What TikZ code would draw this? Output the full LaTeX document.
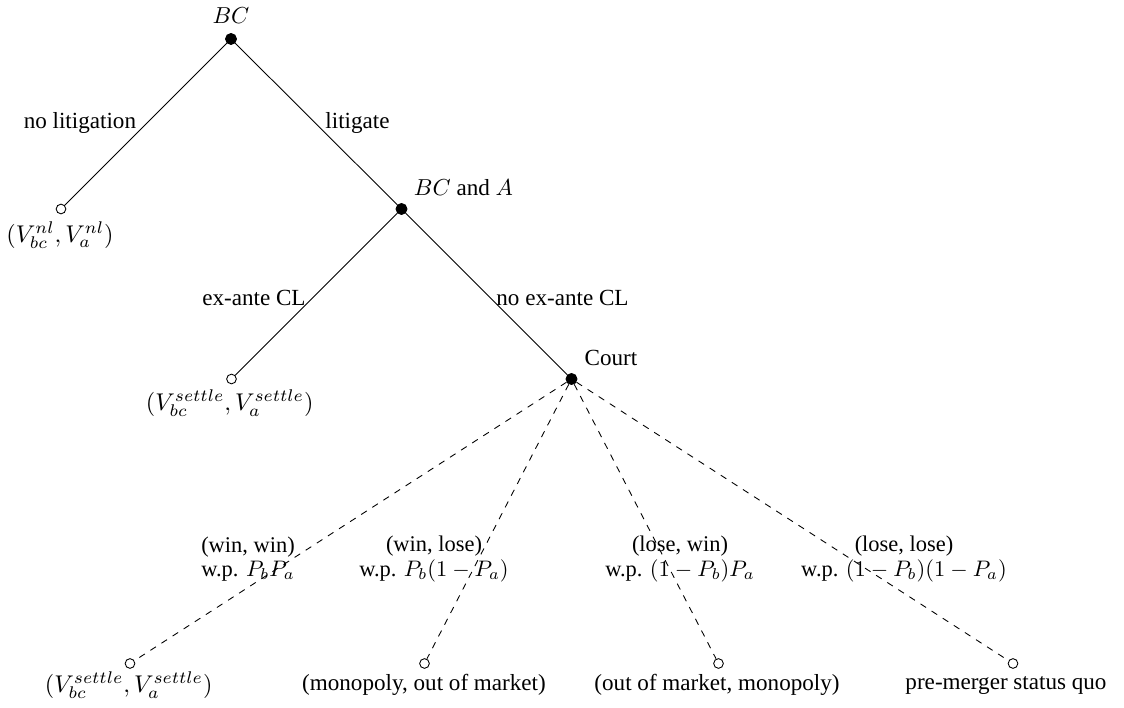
\RequirePackage{fix-cm}
\documentclass[tikz,border=0pt]{standalone}
\usepackage{fontspec}
\setmainfont{Liberation Serif}
\begin{document}
\begin{tikzpicture}[x=0.4545pt,y=-0.4545pt,
  dec/.style={circle,draw=black,fill=black,inner sep=0pt,minimum size=5pt},
  term/.style={circle,draw=black,fill=white,line width=0.4pt,inner sep=0pt,minimum size=4.4pt},
  move/.style={draw=black,line width=0.4pt},
  nature/.style={draw=black,line width=0.4pt,dashed},
  txt/.style={font=\fontsize{10.5pt}{12.5pt}\selectfont,inner sep=0pt},
  pay/.style={font=\fontsize{11pt}{13pt}\selectfont,inner sep=0pt},
  prob/.style={font=\fontsize{10.2pt}{11pt}\selectfont,inner sep=0pt,align=center}]
  \path[fill=white] (0,0) rectangle (1124,708);
  \useasboundingbox (0,0) rectangle (1124,708);

  % decision and terminal nodes
  \node[dec]  (root)   at (231,39) {};
  \node[term] (nl)     at (61,209) {};
  \node[dec]  (bca)    at (401.5,209) {};
  \node[term] (settle) at (231.5,379) {};
  \node[dec]  (court)  at (571.5,379) {};
  \node[term] (ww)     at (130,663.5) {};
  \node[term] (wl)     at (424.5,663.5) {};
  \node[term] (lw)     at (718.5,663.5) {};
  \node[term] (ll)     at (1013,663.5) {};

  % moves of the players
  \draw[move] (root) -- (nl);
  \draw[move] (root) -- (bca);
  \draw[move] (bca) -- (settle);
  \draw[move] (bca) -- (court);

  % moves of nature
  \draw[nature] (court) -- (ww);
  \draw[nature] (court) -- (wl);
  \draw[nature] (court) -- (lw);
  \draw[nature] (court) -- (ll);

  % player names
  \node[txt] (tBC) at (231,16) {$BC$};
  \node[txt] (tbca) at (463.5,188) {$BC$ and $A$};
  \node[txt] (tcourt) at (611,358) {Court};

  % action labels
  \node[txt,anchor=east] (tnolit) at (136.5,123) {no litigation};
  \node[txt,anchor=west] (tlit) at (325,123) {litigate};
  \node[txt,anchor=east] (texa) at (306,298) {ex-ante CL};
  \node[txt,anchor=west] (tnoexa) at (496,298) {no ex-ante CL};

  % outcomes of the court
  \node[prob] (pww) at (248,559) {(win, win)\\w.p. $P_bP_a$};
  \node[prob] (pwl) at (434,559) {(win, lose)\\w.p. $P_b(1-P_a)$};
  \node[prob] (plw) at (680,559) {(lose, win)\\w.p. $(1-P_b)P_a$};
  \node[prob] (pll) at (904,559) {(lose, lose)\\w.p. $(1-P_b)(1-P_a)$};

  % payoffs
  \node[pay] (onl) at (60,235) {$(V_{bc}^{nl},V_a^{nl})$};
  \node[pay] (osettle) at (229.7,403) {$(V_{bc}^{settle},V_a^{settle})$};
  \node[pay] (oww) at (128.7,685) {$(V_{bc}^{settle},V_a^{settle})$};
  \node[txt] (owl) at (424,685) {(monopoly, out of market)};
  \node[txt] (olw) at (717,685) {(out of market, monopoly)};
  \node[txt] (oll) at (1006,685) {pre-merger status quo};
\end{tikzpicture}
\end{document}
